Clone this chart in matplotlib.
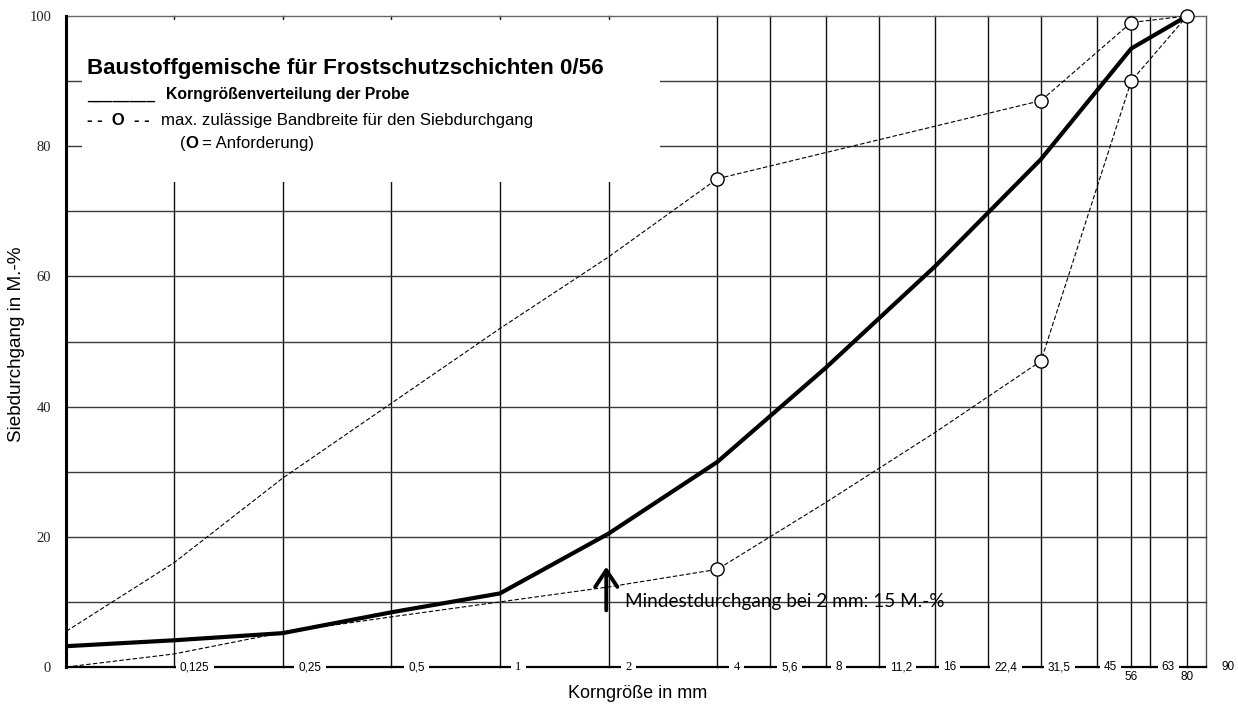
import matplotlib
matplotlib.use('Agg')
import matplotlib.pyplot as plt
from matplotlib.patches import Rectangle

# sieve sizes in mm (x axis, log scale), first one is labelled "0"
sieves = [0.063, 0.125, 0.25, 0.5, 1, 2, 4, 5.6, 8, 11.2, 16, 22.4, 31.5, 45, 56, 63, 80, 90]
sieve_labels = ['0', '0,125', '0,25', '0,5', '1', '2', '4', '5,6', '8', '11,2', '16',
                '22,4', '31,5', '45', '56', '63', '80', '90']

# grading curve of the sample
probe_x = [0.063, 0.125, 0.25, 0.5, 1, 2, 4, 8, 16, 31.5, 56, 80]
probe_y = [3.2, 4.1, 5.2, 8.4, 11.3, 20.5, 31.5, 46, 61.5, 78, 95, 100]

# allowed band, upper and lower limit
upper_x = [0.063, 0.125, 0.25, 0.5, 1, 2, 4, 31.5, 56, 80]
upper_y = [5.5, 16, 29, 40.5, 52, 63, 75, 87, 99, 100]
lower_x = [0.063, 0.125, 0.25, 0.5, 1, 2, 4, 8, 16, 31.5, 56, 80]
lower_y = [0, 2, 5.3, 7.7, 10, 12.3, 15, 25.3, 36, 47, 90, 100]

# requirement points (circles)
req_upper_x = [4, 31.5, 56, 80]
req_upper_y = [75, 87, 99, 100]
req_lower_x = [4, 31.5, 56]
req_lower_y = [15, 47, 90]

W, H = 1238, 707


def fx(x):
    return x / W


def fy(y):
    return 1 - y / H


fig = plt.figure(figsize=(W / 100, H / 100), dpi=100)
ax = fig.add_axes([fx(66.4), fy(667), fx(1205.6) - fx(66.4), fy(16) - fy(667)])
ax.set_xscale('log')
ax.set_xlim(0.063, 90)
ax.set_ylim(0, 100)

# grid
for s in sieves[1:]:
    c = '#555555' if s == 90 else '#111111'
    ax.axvline(s, color=c, lw=1.0, zorder=1, clip_on=False)
for v in range(10, 101, 10):
    c = '#666666' if v == 100 else '#3a3a3a'
    ax.axhline(v, color=c, lw=1.0, zorder=1, clip_on=False)
ax.axhline(0, color='black', lw=1.6, zorder=2, clip_on=False)

for sp in ['top', 'right', 'bottom']:
    ax.spines[sp].set_visible(False)
ax.spines['left'].set_linewidth(2.2)
ax.spines['left'].set_zorder(5)

ax.set_xticks([])
ax.set_xticks([], minor=True)
ax.set_yticks(range(0, 101, 20))
ax.tick_params(axis='y', length=0, pad=11, labelsize=10.5, labelcolor='#222222')
for t in ax.get_yticklabels():
    t.set_fontfamily('Liberation Serif')

# x tick labels sitting on the bottom line
offsets = [None, 6, 16, 17, 15, 17, 16, 11, 9, 11, 8, 7, 7, 7, None, 12, None, 16]
serif = {'1', '2', '4'}
for s, lab, off in zip(sieves, sieve_labels, offsets):
    if lab == '0':
        continue
    fam = 'Liberation Serif' if lab in serif else 'Liberation Sans'
    fs = 9 if lab in serif else 8.5
    if off is None:
        ax.annotate(lab, xy=(s, 0), xytext=(0, -10), textcoords='offset pixels',
                    ha='center', va='center', fontsize=8.5, family='Liberation Sans',
                    annotation_clip=False, zorder=6)
    else:
        ax.annotate(lab, xy=(s, 0), xytext=(off, 0), textcoords='offset pixels',
                    ha='left', va='center', fontsize=fs, family=fam,
                    annotation_clip=False, zorder=6,
                    bbox=dict(boxstyle='square,pad=0.35', fc='white', ec='none'))

# curves
ax.plot(upper_x, upper_y, color='black', lw=0.8, ls=(0, (4, 2)), zorder=3)
ax.plot(lower_x, lower_y, color='black', lw=0.8, ls=(0, (4, 2)), zorder=3)
ax.plot(probe_x, probe_y, color='black', lw=3.0, zorder=4, solid_joinstyle='miter')
ax.plot(req_upper_x, req_upper_y, 'o', ms=9.5, mfc='white', mec='black', mew=1.0, zorder=5,
        clip_on=False)
ax.plot(req_lower_x, req_lower_y, 'o', ms=9.5, mfc='white', mec='black', mew=1.0, zorder=5)

# arrow + note
ax.annotate('', xy=(1.97, 15.4), xytext=(1.97, 8.7),
            arrowprops=dict(arrowstyle='->,head_length=0.6,head_width=0.4',
                            color='black', lw=2.8, mutation_scale=20,
                            shrinkA=0, shrinkB=0), zorder=6)
ax.text(2.22, 10, 'Mindestdurchgang bei 2 mm: 15 M.-%', family='Lato', fontsize=13.7,
        ha='left', va='center', zorder=6)

fig.text(fx(17), fy(344), 'Siebdurchgang in M.-%', family='Liberation Sans', fontsize=13.6,
         rotation=90, ha='center', va='center')
fig.text(fx(638), fy(694), 'Korngröße in mm', family='Liberation Sans', fontsize=13,
         ha='center', va='center')

# legend box
fig.add_artist(Rectangle((fx(82), fy(182)), fx(660) - fx(82), fy(20) - fy(182),
                         transform=fig.transFigure, fc='white', ec='none', zorder=2))
fig.text(fx(87), fy(74), 'Baustoffgemische für Frostschutzschichten 0/56',
         family='Liberation Sans', fontsize=16.1, weight='bold', va='baseline', zorder=3)
fig.text(fx(87), fy(100), '________', family='Liberation Sans', fontsize=11,
         weight='bold', va='baseline', zorder=3)
fig.text(fx(166), fy(99), 'Korngrößenverteilung der Probe', family='Liberation Sans',
         fontsize=11.3, weight='bold', va='baseline', zorder=3)
fig.text(fx(87), fy(125), '- -  O  - -', family='Liberation Sans', fontsize=12,
         weight='bold', va='baseline', zorder=3)
fig.text(fx(161), fy(125), 'max. zulässige Bandbreite für den Siebdurchgang',
         family='Liberation Sans', fontsize=12.1, va='baseline', zorder=3)
fig.text(fx(180), fy(148), '(', family='Liberation Sans', fontsize=12.1,
         va='baseline', zorder=3)
fig.text(fx(185), fy(148), 'O', family='Liberation Sans', fontsize=12.1, weight='bold',
         va='baseline', zorder=3)
fig.text(fx(202), fy(148), '= Anforderung)', family='Liberation Sans', fontsize=12.1,
         va='baseline', zorder=3)

fig.savefig('out.png', dpi=100)
